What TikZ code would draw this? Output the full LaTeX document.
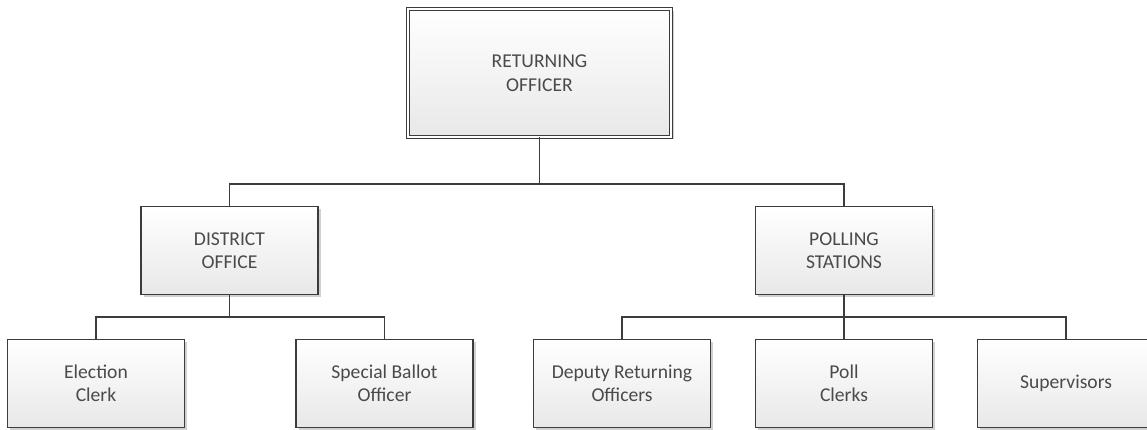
\documentclass[tikz,border=0pt]{standalone}
\usepackage{fontspec}
\setmainfont{Carlito}
\usetikzlibrary{shadows}
\definecolor{edgec}{HTML}{3C3C3C}
\definecolor{textc}{HTML}{4A4A4A}
\begin{document}
\begin{tikzpicture}[x=1pt,y=-1pt,
  box/.style={rectangle, draw=edgec, line width=1.3pt, top color=white, bottom color=black!9,
    minimum width=177pt, minimum height=88pt, inner sep=0pt, outer sep=0pt, align=center,
    text=textc, font=\fontsize{19.6}{23.5}\selectfont,
    drop shadow={shadow xshift=2.5pt, shadow yshift=-2.5pt, opacity=0.18, fill=black}},
  topbox/.style={box, double=white, double distance=2.2pt, line width=1.2pt,
    minimum width=263pt, minimum height=128pt},
  conn/.style={draw=edgec, line width=1.3pt}]
\useasboundingbox (0,0) rectangle (1147,430);
\node[topbox] (ro) at (539.5,73) {RETURNING\\OFFICER};
\node[box] (do) at (229.5,250.5) {DISTRICT\\OFFICE};
\node[box] (ps) at (844,250.5) {POLLING\\STATIONS};
\node[box] (ec) at (96,383.5) {Election\\Clerk};
\node[box] (sb) at (384.5,383.5) {Special Ballot\\Officer};
\node[box] (dr) at (622,383.5) {Deputy Returning\\Officers};
\node[box] (pc) at (844,383.5) {Poll\\Clerks};
\node[box] (su) at (1066,383.5) {Supervisors};
\draw[conn] (ro.south) -- ++(0,47) -| (do.north);
\draw[conn] (ro.south) -- ++(0,47) -| (ps.north);
\draw[conn] (do.south) -- ++(0,22.5) -| (ec.north);
\draw[conn] (do.south) -- ++(0,22.5) -| (sb.north);
\draw[conn] (ps.south) -- ++(0,22.5) -| (dr.north);
\draw[conn] (ps.south) -- (pc.north);
\draw[conn] (ps.south) -- ++(0,22.5) -| (su.north);
\end{tikzpicture}
\end{document}
